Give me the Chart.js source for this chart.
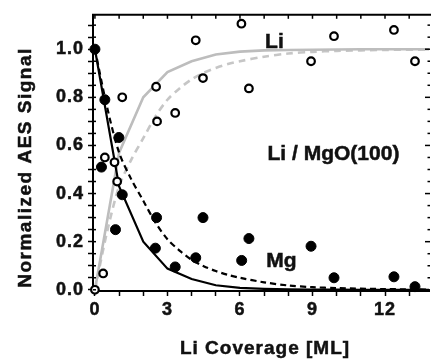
<!DOCTYPE html>
<html>
<head>
<meta charset="utf-8">
<script src="https://cdn.jsdelivr.net/npm/chart.js@4/dist/chart.umd.min.js"></script>
<style>
  html, body { margin: 0; padding: 0; background: #fff; }
  #wrap { width: 435px; height: 360px; }
</style>
</head>
<body>
<div id="wrap"><canvas id="c" width="435" height="360"></canvas></div>
<script>
// ---- data ----
const liX = [0, 0.34, 0.41, 0.81, 0.92, 1.13, 2.53, 2.57, 3.32, 4.17, 4.47, 6.06, 6.37, 8.94, 9.89, 12.37, 13.24];
const liY = [0, 0.068, 0.55, 0.53, 0.45, 0.80, 0.844, 0.70, 0.735, 1.037, 0.88, 1.106, 0.837, 0.95, 1.054, 1.08, 0.95];
const mgX = [0, 0.27, 0.41, 0.85, 0.99, 1.13, 2.50, 2.55, 3.32, 4.17, 4.47, 6.07, 6.37, 8.94, 9.89, 12.37, 13.24];
const mgY = [1.0, 0.51, 0.79, 0.25, 0.633, 0.395, 0.173, 0.30, 0.095, 0.133, 0.30, 0.122, 0.213, 0.181, 0.05, 0.054, 0.013];

const fitXSolid = [0, 1, 2, 3, 4, 5, 6, 7, 8, 9, 10, 11, 12, 13, 14];
const mgSolid   = [1.0, 0.43, 0.20, 0.088, 0.045, 0.019, 0.008, 0.004, 0.002, 0.001, 0.0005, 0, 0, 0, 0];
const liSolid   = [0, 0.57, 0.80, 0.905, 0.95, 0.978, 0.99, 0.995, 0.997, 0.998, 0.999, 1, 1, 1, 1];

const fitXDashed = [0, 0.5, 1, 1.5, 2, 2.5, 3, 3.5, 4, 4.5, 5, 5.5, 6, 7, 8, 9, 10, 12, 14];
const mgDashed   = [1.0, 0.76, 0.57, 0.46, 0.37, 0.28, 0.21, 0.163, 0.125, 0.098, 0.078, 0.062, 0.05, 0.031, 0.018, 0.011, 0.007, 0.003, 0.001];
const liDashed   = [0, 0.24, 0.43, 0.54, 0.63, 0.72, 0.79, 0.837, 0.875, 0.902, 0.922, 0.938, 0.95, 0.969, 0.982, 0.989, 0.993, 0.997, 0.999];

const xTicks = [0, 1, 2, 3, 4, 5, 6, 7, 8, 9, 10, 11, 12, 13];
const xLabelTicks = [0, 3, 6, 9, 12];
const yTicks = [0, 0.05, 0.1, 0.15, 0.2, 0.25, 0.3, 0.35, 0.4, 0.45, 0.5, 0.55, 0.6, 0.65, 0.7, 0.75, 0.8, 0.85, 0.9, 0.95, 1.0, 1.05, 1.1];
const yLabelTicks = [0, 0.2, 0.4, 0.6, 0.8, 1.0];

const xTitle = 'Li Coverage [ML]';
const yTitle = 'Normalized AES Signal';
const annoText = ['Li', 'Li / MgO(100)', 'Mg'];
const annoX = [7.04, 7.14, 7.09];
const annoY = [1.007, 0.538, 0.094];

// ---- build ----
const pts = (xs, ys) => xs.map((v, i) => ({x: v, y: ys[i]}));
const isIn = (arr, v) => arr.some(a => Math.abs(a - v) < 1e-6);
const FONT = '"Liberation Sans", Arial, sans-serif';
const TXT = '#111';

function boldText(ctx, t, x, y) {
  ctx.fillText(t, x, y);
  ctx.strokeText(t, x, y);
}

const framePlugin = {
  id: 'frame',
  beforeLayout(chart) { chart.ctx.letterSpacing = '1px'; },
  beforeDraw(chart) { chart.ctx.letterSpacing = '1px'; },
  afterDraw(chart) {
    const {ctx, chartArea: a, scales: {x, y}} = chart;
    ctx.save();
    ctx.strokeStyle = '#000';
    ctx.lineWidth = 2;
    ctx.beginPath(); ctx.moveTo(a.left - 1, a.top); ctx.lineTo(a.right + 2, a.top); ctx.stroke();
    ctx.lineWidth = 1.5;
    xTicks.forEach(v => {
      const px = x.getPixelForValue(v);
      ctx.beginPath(); ctx.moveTo(px, a.top); ctx.lineTo(px, a.top + 4); ctx.stroke();
    });
    yTicks.forEach(v => {
      const py = y.getPixelForValue(v);
      const major = isIn(yLabelTicks, v);
      ctx.beginPath(); ctx.moveTo(a.right + 1, py); ctx.lineTo(a.right - (major ? 4 : 1.5), py); ctx.stroke();
      ctx.beginPath(); ctx.moveTo(a.left, py); ctx.lineTo(a.left + 3, py); ctx.stroke();
    });
    // annotations
    ctx.letterSpacing = '0px';
    ctx.fillStyle = TXT;
    ctx.strokeStyle = TXT;
    ctx.lineWidth = 0.5;
    ctx.font = 'bold 21px ' + FONT;
    ctx.textAlign = 'left';
    ctx.textBaseline = 'alphabetic';
    annoText.forEach((t, i) => boldText(ctx, t, x.getPixelForValue(annoX[i]), y.getPixelForValue(annoY[i])));
    // axis titles
    ctx.letterSpacing = '1px';
    ctx.font = 'bold 19px ' + FONT;
    ctx.textAlign = 'center';
    boldText(ctx, xTitle, 265, 354);
    ctx.letterSpacing = '1.5px';
    ctx.translate(30.5, 167.5);
    ctx.rotate(-Math.PI / 2);
    boldText(ctx, yTitle, 0, 0);
    ctx.restore();
  }
};

new Chart(document.getElementById('c'), {
  type: 'scatter',
  data: {
    datasets: [
      {label: 'Mg data', data: pts(mgX, mgY), order: 0, pointRadius: 5, pointHoverRadius: 5,
       backgroundColor: '#000', borderColor: '#000', borderWidth: 1, clip: false},
      {label: 'Li data', data: pts(liX, liY), order: 1, pointRadius: 3.8, pointHoverRadius: 3.8,
       backgroundColor: '#fff', borderColor: '#000', borderWidth: 2.2, clip: false},
      {label: 'Mg fit', data: pts(fitXSolid, mgSolid), order: 2, showLine: true, pointRadius: 0,
       borderColor: '#000', borderWidth: 2.2, tension: 0},
      {label: 'Mg fit 2', data: pts(fitXDashed, mgDashed), order: 3, showLine: true, pointRadius: 0,
       borderColor: '#000', borderWidth: 2.2, borderDash: [6, 4], tension: 0.3},
      {label: 'Li fit', data: pts(fitXSolid, liSolid), order: 4, showLine: true, pointRadius: 0,
       borderColor: '#bdbdbd', borderWidth: 2.6, tension: 0},
      {label: 'Li fit 2', data: pts(fitXDashed, liDashed), order: 5, showLine: true, pointRadius: 0,
       borderColor: '#c6c6c6', borderWidth: 2.6, borderDash: [7, 5], tension: 0.3}
    ]
  },
  options: {
    responsive: false,
    animation: false,
    events: [],
    layout: {padding: {top: 10, right: 1, left: 0, bottom: 0}},
    plugins: {legend: {display: false}, tooltip: {enabled: false}},
    scales: {
      x: {
        type: 'linear', min: -0.08, max: 13.82,
        afterBuildTicks: s => { s.ticks = xTicks.map(v => ({value: v})); },
        afterFit: s => { s.height = 69; },
        ticks: {
          autoSkip: false, maxRotation: 0, padding: 3, color: TXT,
          textStrokeColor: TXT, textStrokeWidth: 0.5,
          font: {family: FONT, size: 18, weight: 'bold'},
          callback: v => isIn(xLabelTicks, v) ? String(v) : ''
        },
        grid: {drawOnChartArea: false, drawTicks: true, tickLength: 5, tickColor: '#000', tickWidth: 1.5},
        border: {display: true, color: '#000', width: 2}
      },
      y: {
        type: 'linear', min: -0.005, max: 1.143,
        afterBuildTicks: s => { s.ticks = yTicks.map(v => ({value: v})); },
        afterFit: s => { s.width = 93; },
        ticks: {
          autoSkip: false, padding: 4, color: TXT,
          textStrokeColor: TXT, textStrokeWidth: 0.5,
          font: {family: FONT, size: 18, weight: 'bold'},
          callback: v => isIn(yLabelTicks, v) ? v.toFixed(1) : ''
        },
        grid: {drawOnChartArea: false, drawTicks: true, tickLength: 5, tickColor: '#000', tickWidth: 1.5},
        border: {display: true, color: '#000', width: 2}
      }
    }
  },
  plugins: [framePlugin]
});
</script>
</body>
</html>
